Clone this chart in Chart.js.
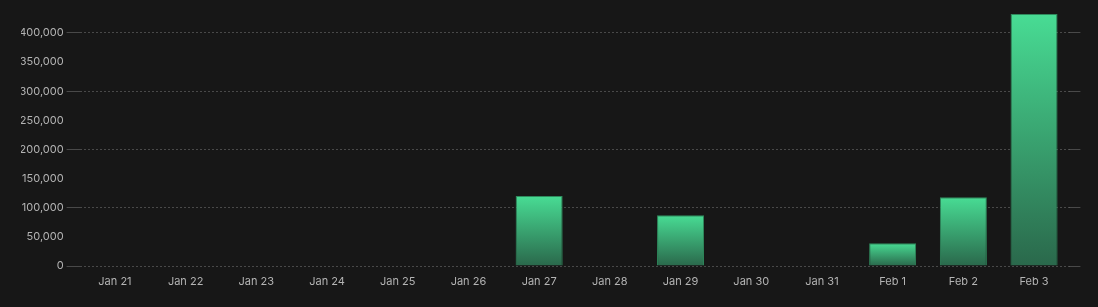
<!DOCTYPE html>
<html>
<head>
<meta charset="utf-8">
<script src="https://cdn.jsdelivr.net/npm/chart.js@4.4.1/dist/chart.umd.min.js"></script>
<style>
  html, body { margin: 0; padding: 0; background: #171717; }
  #wrap { width: 1098px; height: 307px; position: relative; }
</style>
</head>
<body>
<div id="wrap"><canvas id="c"></canvas></div>
<script>
const categories = ['Jan 21','Jan 22','Jan 23','Jan 24','Jan 25','Jan 26','Jan 27','Jan 28','Jan 29','Jan 30','Jan 31','Feb 1','Feb 2','Feb 3'];
const values = [0, 0, 0, 0, 0, 0, 120000, 0, 87000, 0, 0, 39000, 118000, 432600];
const yTicks = [0, 50000, 100000, 150000, 200000, 250000, 300000, 350000, 400000];
const gridEvery = 100000;

const yMax = Math.max(...values);
const tickColor = '#b4b4b4';
const gridColor = ctx => {
  const v = ctx.tick ? ctx.tick.value : undefined;
  return (v !== undefined && v % gridEvery === 0) ? 'rgba(255,255,255,0.22)' : 'rgba(0,0,0,0)';
};
const setTicks = s => { s.ticks = yTicks.map(v => ({ value: v })); };

function barFill(ctx) {
  const chart = ctx.chart;
  if (!chart.chartArea || ctx.type !== 'data' || !ctx.parsed) return '#46d890';
  const ys = chart.scales.y;
  const top = ys.getPixelForValue(ctx.parsed.y);
  const bot = ys.getPixelForValue(0);
  if (Math.abs(bot - top) < 1) return '#46d890';
  const g = chart.ctx.createLinearGradient(0, top, 0, bot);
  g.addColorStop(0, '#48dc94');
  g.addColorStop(1, '#2a684b');
  return g;
}

Chart.defaults.font.family = 'Inter, "Noto Sans", sans-serif';
Chart.defaults.font.size = 11;
Chart.defaults.color = tickColor;

new Chart(document.getElementById('c'), {
  type: 'bar',
  data: {
    labels: categories,
    datasets: [{
      data: values,
      backgroundColor: barFill,
      borderColor: '#2f8a5d',
      borderWidth: 1,
      borderSkipped: 'bottom',
      categoryPercentage: 1,
      barPercentage: 0.665
    }]
  },
  options: {
    responsive: true,
    maintainAspectRatio: false,
    animation: false,
    layout: { padding: { left: 21, right: 18, top: 14, bottom: 20 } },
    plugins: { legend: { display: false }, tooltip: { enabled: false } },
    scales: {
      x: {
        grid: { display: false, drawTicks: false },
        border: { display: false },
        ticks: { padding: 9, color: tickColor, maxRotation: 0, autoSkip: false },
        afterFit: s => { s.height = 21; }
      },
      y: {
        position: 'left',
        min: 0,
        max: yMax,
        border: { display: false, dash: [2, 2] },
        grid: { color: gridColor, tickColor: gridColor, tickLength: 13, lineWidth: 1 },
        afterBuildTicks: setTicks,
        ticks: {
          padding: 3,
          color: tickColor,
          autoSkip: false,
          callback: v => v.toLocaleString('en-US')
        },
        afterFit: s => { s.width = 58.6; }
      },
      y2: {
        position: 'right',
        min: 0,
        max: yMax,
        border: { display: false, dash: [2, 2] },
        grid: { drawOnChartArea: false, color: gridColor, tickColor: gridColor, tickLength: 11 },
        afterBuildTicks: setTicks,
        ticks: { display: false, autoSkip: false },
        afterFit: s => { s.width = 10.6; }
      }
    }
  }
});
</script>
</body>
</html>
